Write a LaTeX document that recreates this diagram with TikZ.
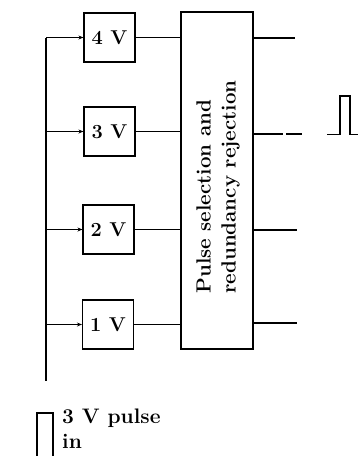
\documentclass[tikz,border=0pt]{standalone}
\usepackage{fontspec}
\usepackage{tikz}
\usetikzlibrary{arrows.meta, positioning}

\begin{document}
\begin{tikzpicture}[
    x=1pt, y=-1pt,
    >={Stealth[length=5pt,width=4pt]},
    levelbox/.style={draw, line width=1.1pt, minimum width=51pt, minimum height=49pt, inner sep=0, font=\bfseries\fontsize{20}{20}\selectfont},
    wire/.style={line width=1.1pt},
    pulse/.style={line width=1.2pt},
    caption/.style={anchor=base west, inner sep=0, font=\bfseries\fontsize{21}{21}\selectfont},
]
    \useasboundingbox (0,0) rectangle (358,456);

    % Discriminator boxes
    \node[levelbox] (V4) at (109.5,37.5) {4 V};
    \node[levelbox] (V3) at (109.5,131.5) {3 V};
    \node[levelbox] (V2) at (108.5,229.5) {2 V};
    \node[levelbox] (V1) at (108,324.5) {1 V};

    % Selection block
    \node[draw, line width=1.1pt, minimum width=72pt, minimum height=337pt, inner sep=0] (select) at (217,180.5) {};
    \node[rotate=90, align=left, font=\bfseries\fontsize{20.5}{25}\selectfont] (selecttext) at (218,187) {Pulse selection and\\redundancy rejection};

    % Input bus
    \coordinate (bustop) at (46,37.5);
    \coordinate (busend) at (46,381);
    \draw[wire] (bustop) -- (busend);
    \draw[wire, ->] (bustop) -- (V4.west);
    \draw[wire, ->] (V3.west -| bustop) -- (V3.west);
    \draw[wire, ->] (V2.west -| bustop) -- (V2.west);
    \draw[wire, ->] (V1.west -| bustop) -- (V1.west);

    % Links into the block
    \draw[wire] (V4.east) -- (V4.east -| select.west);
    \draw[wire] (V3.east) -- (V3.east -| select.west);
    \draw[wire] (V2.east) -- (V2.east -| select.west);
    \draw[wire] (V1.east) -- (V1.east -| select.west);

    % Outputs
    \coordinate (out4) at (295,38);
    \coordinate (out3) at (302,134);
    \coordinate (out2) at (297,230);
    \coordinate (out1) at (297,323);
    \draw[wire] (out4 -| select.east) -- (out4);
    \draw[wire] (out3 -| select.east) -- (283,134) (286,134) -- (out3);
    \draw[wire] (out2 -| select.east) -- (out2);
    \draw[wire] (out1 -| select.east) -- (out1);

    % Output pulse
    \draw[pulse] (327,134.5) -- (340,134.5) -- (340,96) -- (350,96) -- (350,134.5) -- (358,134.5);

    % Input pulse
    \draw[pulse] (37,456) -- (37,413) -- (53,413) -- (53,456);
    \node[caption] (pulselabel) at (62,423) {3 V pulse};
    \node[caption] (inlabel) at (62,448) {in};
\end{tikzpicture}
\end{document}
